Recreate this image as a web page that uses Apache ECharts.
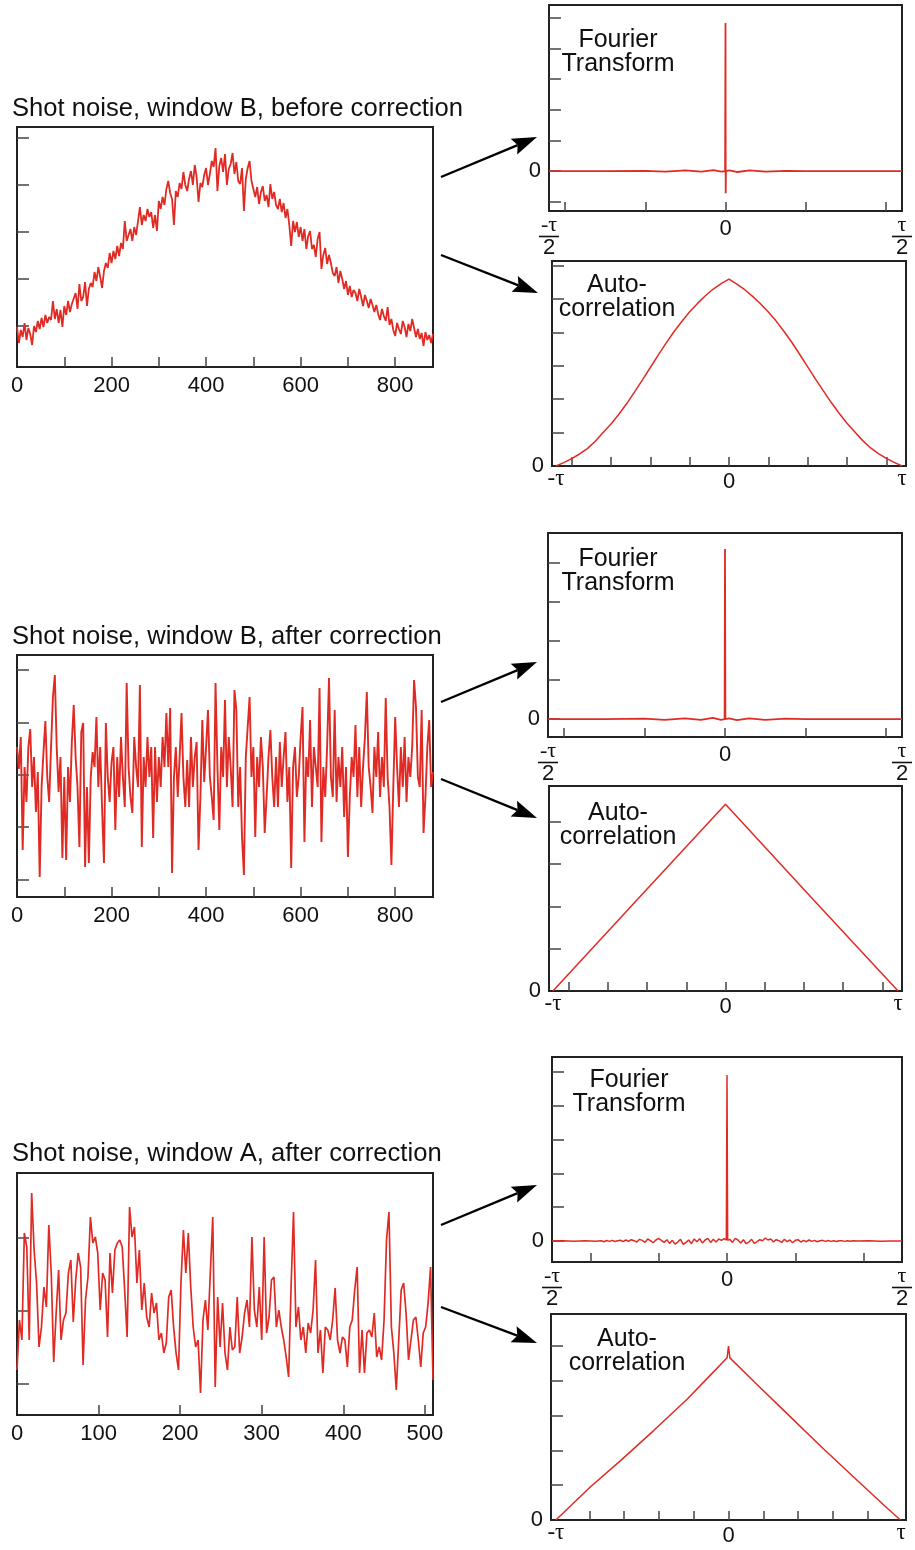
<!DOCTYPE html>
<html><head><meta charset="utf-8">
<script src="https://cdn.jsdelivr.net/npm/echarts@6/dist/echarts.min.js"></script>
<style>html,body{margin:0;padding:0;background:#fff}#c{width:915px;height:1550px}</style>
</head><body><div id="c"></div>
<script>
// ---------------- DATA ----------------
const panelTitles = ['Shot noise, window B, before correction', 'Shot noise, window B, after correction', 'Shot noise, window A, after correction'];

// left-hand noise traces (arbitrary intensity units), sampled every `step` channels
const stepB = 4, stepA = 3;
const noiseBBefore = [
 40,24,37,30,44,27,39,33,22,41, 35,46,38,49,40,52,44,50,47,66, 48,58,44,57,40,61,52,66,55,63,
 62,74,58,83,66,70,85,61,78,84, 80,95,86,100,90,79,96,104,99,114, 104,116,108,121,111,124,118,146,126,132,
 138,126,140,132,146,160,142,152,146,158, 150,155,139,152,136,166,158,170,162,178, 186,174,168,142,176,170,184,178,195,182,
 176,188,196,182,202,190,165,184,180,192, 199,182,193,206,200,219,176,201,209,195, 213,182,198,203,214,193,205,186,183,199,
 156,188,199,206,186,178,170,180,163,175, 181,166,172,160,183,168,175,162,158,168, 155,164,149,158,142,121,146,135,145,130,
 140,126,138,118,131,136,118,122,110,128, 135,98,112,119,103,112,104,94,91,100, 84,96,88,78,86,72,81,70,77,74,
 66,78,70,61,72,66,59,68,62,55, 62,53,47,58,51,46,60,42,48,37, 31,44,38,33,46,40,30,43,36,48,
 39,30,38,28,34,21,35,27,32,24,33];
const noiseBAfter = [
 150,128,160,47,130,95,150,168,110,140, 85,125,20,110,145,176,120,95,150,200, 222,150,105,140,39,120,37,130,95,155,
 192,140,110,50,165,174,30,110,34,120, 145,130,180,110,150,88,34,174,120,95, 135,150,67,140,100,160,120,90,214,130,
 100,84,160,130,110,212,50,140,110,160, 120,150,59,150,95,140,110,160,130,184, 130,189,24,120,150,100,140,184,120,90,
 137,90,160,110,140,155,47,100,177,115, 150,187,120,100,77,214,130,67,150,120, 197,110,160,130,90,207,187,90,130,60,
 22,140,170,200,120,150,60,140,110,160, 130,64,100,140,167,120,90,140,90,155, 110,140,165,95,130,29,130,150,100,120,
 160,190,55,140,120,177,90,150,130,110, 209,55,130,100,150,219,120,100,187,95, 140,110,150,80,130,40,100,140,120,172,
 100,150,90,130,160,205,130,110,84,150, 120,165,100,140,110,199,120,90,32,110, 180,130,90,150,110,160,95,140,120,150,
 217,190,120,110,187,64,100,150,177,110,125];
const noiseAAfter = [
 45,95,75,182,168,75,222,165,132,68, 88,128,108,190,142,53,102,145,75,95, 102,142,155,93,135,162,148,50,115,138,
 198,172,178,162,105,142,135,78,162,122, 165,172,175,168,125,78,208,178,188,132, 165,105,132,98,88,122,102,112,75,82,
 62,72,118,125,88,62,45,132,185,142, 182,128,88,68,75,22,95,115,85,142, 198,28,118,68,112,62,45,88,65,68,
 118,62,78,102,115,88,178,105,88,128, 75,178,82,98,135,138,88,105,88,75, 58,38,128,203,88,108,75,88,62,92,
 82,105,155,62,85,42,88,85,75,95, 127,75,62,78,75,48,88,95,125,148, 42,85,42,82,85,78,102,58,68,55,
 95,175,203,88,62,25,75,125,132,102, 55,75,95,98,75,48,82,88,112,148, 35];

// Fourier transforms (frequency bin, amplitude)
const ft1Bin = [-440,-300,-200,-150,-100,-60,-30,-10,-1,0,0.5,1,10,30,60,100,150,200,300,440];
const ft1Val = [0,0,0.01,-0.02,0.02,-0.02,0.03,-0.02,0,4.82,-0.72,0,0.02,-0.03,0.02,-0.02,0.01,0,0,0];
const ft2Bin = [-440,-300,-200,-150,-100,-60,-30,-10,-1,0,1,10,30,60,100,150,200,300,440];
const ft2Val = [0,0,0.01,-0.02,0.02,-0.02,0.03,-0.02,0,4.36,0,0.02,-0.03,0.02,-0.02,0.01,0,0,0];
const ft3Bin = [-256,-240,-224,-208,-192,
 -184,-180,-176,-172,-168,-164,-160,-156,-152,-148,-144,-140,-136,-132,-128,-124,-120,-116,-112,-108,-104,-100,-96,-92,-88,-84,-80,-76,-72,-68,-64,-60,-56,-52,-48,-44,-40,-36,-32,-28,-24,-20,-16,-12,-8,-4,
 -1,0,1,
 4,8,12,16,20,24,28,32,36,40,44,48,52,56,60,64,68,72,76,80,84,88,92,96,100,104,108,112,116,120,124,128,132,136,140,144,148,152,156,160,164,168,172,176,180,184,
 192,208,224,240,256];
const ft3Val = [0,0.005,-0.01,0.01,-0.005,
 0.01,-0.02,0.015,-0.01,0.02,-0.015,0.01,0.025,-0.02,0.03,-0.01,0.04,0.01,-0.03,0.05,0.02,-0.04,0.06,0.01,-0.05,0.03,0.08,0.02,-0.04,0.04,-0.07,0.02,-0.09,-0.03,0.05,-0.1,-0.04,0.03,-0.08,0.06,-0.02,0.07,-0.06,0.03,0.08,-0.04,0.05,-0.03,0.06,0.02,0.07,
 0.03,4.91,0.02,
 0.05,-0.04,0.08,0.03,-0.06,0.04,-0.08,-0.03,0.05,-0.07,-0.02,0.04,0.01,0.09,0.03,0.06,-0.03,0.04,0.01,-0.04,0.05,-0.02,0.03,-0.05,0.02,0.04,-0.03,0.02,-0.02,0.03,-0.01,0.02,-0.02,0.01,0.02,-0.01,0.015,-0.01,0.01,-0.015,0.01,0.005,-0.01,0.01,-0.005,0.005,
 0,0.005,-0.005,0,0];

// autocorrelations (lag, value)
const ac1Lag = [-880,-840,-800,-760,-720,-680,-640,-600,-560,-520,-480,-440,-400,-360,-320,-280,-240,-200,-160,-120,-80,-40,0,
                40,80,120,160,200,240,280,320,360,400,440,480,520,560,600,640,680,720,760,800,840,880];
const ac1Val = [0,0.1,0.22,0.36,0.52,0.74,1.0,1.26,1.55,1.87,2.22,2.58,2.95,3.32,3.68,4.02,4.33,4.62,4.87,5.1,5.3,5.46,5.6,
                5.45,5.28,5.08,4.86,4.61,4.34,4.03,3.7,3.34,2.97,2.6,2.25,1.9,1.58,1.28,1.02,0.76,0.54,0.37,0.23,0.11,0];
const ac2Lag = [-880,-440,0,440,880];
const ac2Val = [0,2.21,4.42,2.2,0];
const ac3Lag = [-496,-398,-311,-215,-119,-61,-4,0,4,73,169,265,361,457,494];
const ac3Val = [0,0.94,1.70,2.57,3.47,4.07,4.66,5.0,4.66,3.98,3.05,2.12,1.22,0.33,0];

// tick labels
const noiseXLabelsB = [0,200,400,600,800];
const noiseXLabelsA = [0,100,200,300,400,500];
const ftEdgeB = 440, ftEdgeA = 256, acEdgeB = 880, acEdgeA = 496;

// ---------------- LAYOUT / STYLE ----------------
const RED = '#e02b24';
const FONT = '"Liberation Sans", Arial, sans-serif';
const tickStyle = {color:'#444', width:1.5};
const layout = [
  {left:17, top:127, width:416, height:240},  // 0 noise B before
  {left:17, top:655, width:416, height:242},  // 1 noise B after
  {left:17, top:1173, width:416, height:242}, // 2 noise A after
  {left:549, top:5, width:355, height:206},   // 3 FT1
  {left:552, top:261, width:354, height:205}, // 4 AC1
  {left:548, top:533, width:355, height:204}, // 5 FT2
  {left:549, top:786, width:353, height:205}, // 6 AC2
  {left:552, top:1057, width:353, height:205},// 7 FT3
  {left:551, top:1314, width:355, height:206} // 8 AC3
];
const grids = layout.map(g => Object.assign({show:true, borderColor:'#222', borderWidth:2, backgroundColor:'transparent', containLabel:false}, g));

function noiseX(i, max, ticks, labels){
  return {type:'value', gridIndex:i, min:0, max:max, axisLine:{show:false, onZero:false}, splitLine:{show:false},
    axisTick:{show:true, inside:true, length:10, customValues:ticks, lineStyle:tickStyle},
    axisLabel:{show:true, customValues:labels, margin:8, fontSize:22, color:'#111', fontFamily:FONT}};
}
function plainY(i, min, max, ticks, showZero){
  return {type:'value', gridIndex:i, min:min, max:max, axisLine:{show:false, onZero:false}, splitLine:{show:false},
    axisTick:{show:true, inside:true, length:12, customValues:ticks, lineStyle:tickStyle},
    axisLabel:{show:!!showZero, customValues:[0], formatter:()=>'0', margin:8, fontSize:22, color:'#111', fontFamily:FONT}};
}
const richFrac = {
  n:{fontSize:22, fontFamily:'"Liberation Serif", serif', lineHeight:17, color:'#111'},
  b:{fontSize:2, width:20, height:1.6, backgroundColor:'#111', lineHeight:5},
  d:{fontSize:22, fontFamily:FONT, lineHeight:18, color:'#111'},
  z:{fontSize:22, fontFamily:FONT, lineHeight:24, color:'#111'}
};
function ftX(i, edge, ticks){
  return {type:'value', gridIndex:i, min:-edge, max:edge, axisLine:{show:false, onZero:false}, splitLine:{show:false},
    axisTick:{show:true, inside:true, length:9, customValues:ticks, lineStyle:tickStyle},
    axisLabel:{show:true, customValues:[-edge,0,edge], margin:6, rich:richFrac,
      formatter:v => Math.abs(v) < 1e-9 ? '{z|0}' : (v < 0 ? '{n|-τ}\n{b| }\n{d|2}' : '{n|τ}\n{b| }\n{d|2}')}};
}
const richTau = {
  t:{fontSize:23, fontFamily:'"Liberation Serif", serif', color:'#111', lineHeight:20},
  z:{fontSize:22, fontFamily:FONT, color:'#111', lineHeight:26}
};
function acX(i, min, max, edge, ticks){
  return {type:'value', gridIndex:i, min:min, max:max, axisLine:{show:false, onZero:false}, splitLine:{show:false},
    axisTick:{show:true, inside:true, length:9, customValues:ticks, lineStyle:tickStyle},
    axisLabel:{show:true, customValues:[-edge,0,edge], margin:3, rich:richTau,
      formatter:v => Math.abs(v) < 1e-9 ? '{z|0}' : (v < 0 ? '{t|-τ}' : '{t|τ}')}};
}

const xAxes = [
  noiseX(0, 880, [100,200,300,400,500,600,700,800], noiseXLabelsB),
  noiseX(1, 880, [100,200,300,400,500,600,700,800], noiseXLabelsB),
  noiseX(2, 510, [100,200,300,400,500], noiseXLabelsA),
  ftX(3, ftEdgeB, [-400,-200,0,200,400]),
  acX(4, -900, 900, acEdgeB, [-800,-600,-400,-200,0,200,400,600,800]),
  ftX(5, ftEdgeB, [-400,-200,0,200,400]),
  acX(6, -900, 900, acEdgeB, [-800,-600,-400,-200,0,200,400,600,800]),
  ftX(7, ftEdgeA, [-200,-100,0,100,200]),
  acX(8, -510, 510, acEdgeA, [-400,-300,-200,-100,0,100,200,300,400])
];
const yAxes = [
  plainY(0, 0, 240, [41,88,135,182,229], false),
  plainY(1, 0, 242, [17,70,122,174,227], false),
  plainY(2, 0, 242, [31,104,177], false),
  plainY(3, -1.30, 5.41, [-1,0,1,2,3,4,5], true),
  plainY(4, 0, 6.14, [1,2,3,4,5,6], true),
  plainY(5, -0.46, 4.77, [0,1,2,3,4], true),
  plainY(6, 0, 4.85, [1,2,3,4], true),
  plainY(7, -0.62, 5.44, [0,1,2,3,4,5], true),
  plainY(8, 0, 5.92, [1,2,3,4,5], true)
];

const zip = (xs, ys) => xs.map((x, k) => [x, ys[k]]);
function line(i, data, w){
  return {type:'line', xAxisIndex:i, yAxisIndex:i, data:data, showSymbol:false, symbol:'none',
    lineStyle:{color:RED, width:w}, itemStyle:{color:RED}, animation:false, silent:true};
}
const series = [
  line(0, noiseBBefore.map((v,k)=>[k*stepB, v]), 1.8),
  line(1, noiseBAfter.map((v,k)=>[k*stepB, v]), 1.9),
  line(2, noiseAAfter.map((v,k)=>[k*stepA, v]), 1.7),
  line(3, zip(ft1Bin, ft1Val), 1.8),
  line(4, zip(ac1Lag, ac1Val), 1.5),
  line(5, zip(ft2Bin, ft2Val), 1.8),
  line(6, zip(ac2Lag, ac2Val), 1.5),
  line(7, zip(ft3Bin, ft3Val), 1.5),
  line(8, zip(ac3Lag, ac3Val), 1.5)
];

// annotations
function arrow(x1, y1, x2, y2){
  const a = Math.atan2(y2-y1, x2-x1), L = 25, W = 8.5;
  const c = Math.cos(a), s = Math.sin(a);
  const bx = x2 - L*c, by = y2 - L*s;
  const px = -s, py = c;
  return [
    {type:'line', shape:{x1:x1, y1:y1, x2:bx+4*c, y2:by+4*s}, style:{stroke:'#000', lineWidth:2.3}},
    {type:'polygon', shape:{points:[[x2,y2],[bx+W*px,by+W*py],[bx+4*c,by+4*s],[bx-W*px,by-W*py]]}, style:{fill:'#000'}}
  ];
}
const arrows = [[441,177,537,137],[441,255,538,293],[441,702,537,662],[441,779,537,818],[441,1225,537,1185],[441,1307,537,1343]];
function label(text, x, y){
  return {type:'text', style:{text:text, x:x, y:y, align:'center', verticalAlign:'middle', textAlign:'center', textVerticalAlign:'middle',
    font:'25px ' + FONT, fill:'#111', lineHeight:24}};
}
const graphics = [].concat(
  ...arrows.map(a => arrow(...a)),
  [label('Fourier\nTransform', 618, 52), label('Auto-\ncorrelation', 617, 297),
   label('Fourier\nTransform', 618, 571), label('Auto-\ncorrelation', 618, 825),
   label('Fourier\nTransform', 629, 1092), label('Auto-\ncorrelation', 627, 1351)]
);

const titles = [96, 624, 1141].map((t, k) => ({text:panelTitles[k], left:12, top:t, padding:0,
  textStyle:{fontSize:25.6, fontWeight:'normal', color:'#111', fontFamily:FONT}}));

const chart = echarts.init(document.getElementById('c'), null, {renderer:'canvas'});
chart.setOption({animation:false, backgroundColor:'#fff', title:titles, grid:grids, xAxis:xAxes, yAxis:yAxes, series:series, graphic:graphics});
</script></body></html>
